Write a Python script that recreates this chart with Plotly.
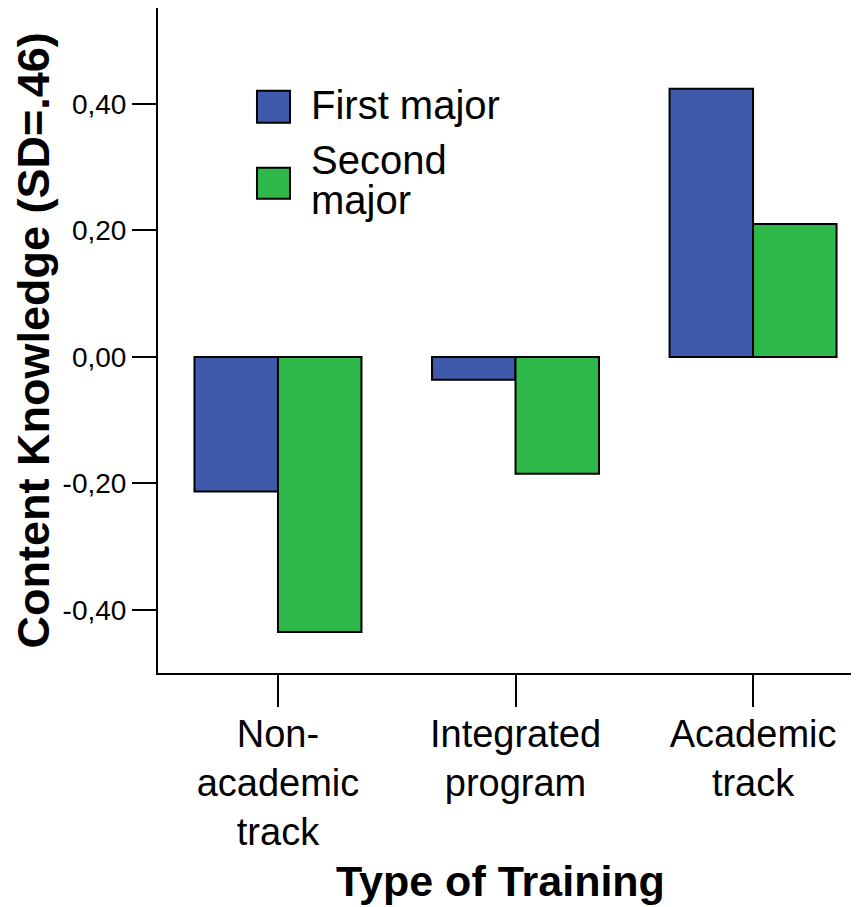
import plotly.graph_objects as go

categories = ["Non-<br>academic<br>track", "Integrated<br>program", "Academic<br>track"]
first_major = [-0.213, -0.036, 0.424]
second_major = [-0.435, -0.185, 0.210]
series_names = ["First major", "Second major"]
y_ticks = [-0.4, -0.2, 0.0, 0.2, 0.4]
y_tick_labels = ["-0,40", "-0,20", "0,00", "0,20", "0,40"]

BLUE = "#3F59AB"
GREEN = "#2FB84A"
FONT = "Liberation Sans, Arial, sans-serif"

fig = go.Figure()
fig.add_trace(go.Bar(x=categories, y=first_major, name=series_names[0],
                     marker=dict(color=BLUE, line=dict(color="black", width=2))))
fig.add_trace(go.Bar(x=categories, y=second_major, name=series_names[1],
                     marker=dict(color=GREEN, line=dict(color="black", width=2))))

fig.update_layout(
    width=851, height=899,
    margin=dict(l=150, r=0, t=0, b=234, autoexpand=False),
    paper_bgcolor="white", plot_bgcolor="white",
    barmode="group", bargap=0.297, bargroupgap=0,
    showlegend=False,
    separators=",.",
    font=dict(family=FONT, color="black"),
)
fig.update_xaxes(
    range=[-0.505, 2.446], showline=True, linecolor="black", linewidth=2,
    mirror=True, ticks="outside", ticklen=32, tickwidth=2, tickcolor="black",
    tickfont=dict(size=38, family=FONT, color="black"), showgrid=False, zeroline=False,
    ticklabelstandoff=-6, automargin=False,
)
fig.update_yaxes(
    range=[-0.5, 0.5518], showline=True, linecolor="black", linewidth=2,
    ticks="outside", ticklen=24, tickwidth=2, tickcolor="black",
    tickvals=y_ticks, ticktext=y_tick_labels,
    tickfont=dict(size=28, family=FONT, color="black"), showgrid=False, zeroline=False,
    automargin=False,
)

# legend drawn as boxes + labels
fig.add_shape(type="rect", xref="paper", yref="paper", x0=0.1412, x1=0.1883, y0=0.8273, y1=0.8754,
              fillcolor=BLUE, line=dict(color="black", width=2))
fig.add_shape(type="rect", xref="paper", yref="paper", x0=0.1412, x1=0.1883, y0=0.7132, y1=0.7598,
              fillcolor=GREEN, line=dict(color="black", width=2))
fig.add_annotation(text=series_names[0], xref="paper", yref="paper", x=0.2154, y=0.8536,
                   xanchor="left", yanchor="middle", showarrow=False,
                   font=dict(size=40, family=FONT, color="black"))
sec = series_names[1].split(" ")
fig.add_annotation(text=sec[0], xref="paper", yref="paper", x=0.2154, y=0.7717,
                   xanchor="left", yanchor="middle", showarrow=False,
                   font=dict(size=40, family=FONT, color="black"))
fig.add_annotation(text=sec[1], xref="paper", yref="paper", x=0.2154, y=0.7117,
                   xanchor="left", yanchor="middle", showarrow=False,
                   font=dict(size=40, family=FONT, color="black"))

# axis titles
fig.add_annotation(text="<b>Content Knowledge (SD=.46)</b>", xref="paper", yref="paper",
                   x=-0.1783, y=0.5, textangle=-90, showarrow=False,
                   xanchor="center", yanchor="middle",
                   font=dict(size=45, family=FONT, color="black"))
fig.add_annotation(text="<b>Type of Training</b>", xref="paper", yref="paper",
                   x=0.4893, y=-0.3123, showarrow=False,
                   xanchor="center", yanchor="middle",
                   font=dict(size=43, family=FONT, color="black"))

fig.write_html("out.html")
